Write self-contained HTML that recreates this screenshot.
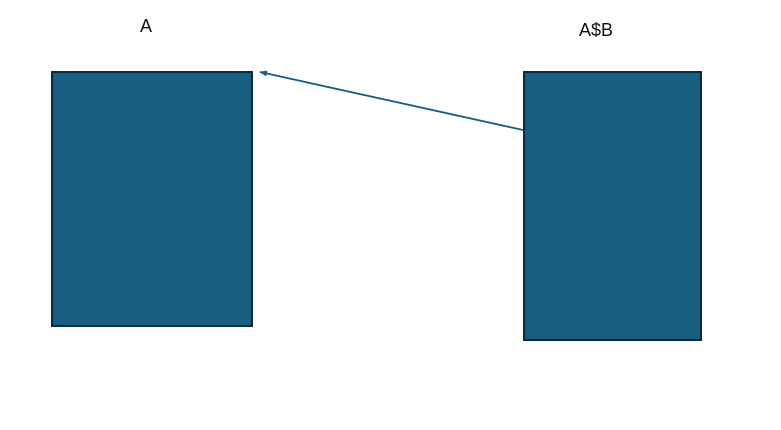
<!DOCTYPE html>
<html><head><meta charset="utf-8"><style>
html,body{margin:0;padding:0;background:#fff;}
svg{display:block;}
text{font-family:"Liberation Sans",sans-serif;font-size:18px;fill:#111;}
</style></head><body>
<svg width="781" height="430" viewBox="0 0 781 430">
<defs><marker id="ah" markerUnits="userSpaceOnUse" markerWidth="8" markerHeight="6" refX="7" refY="3" orient="auto"><path d="M0,0 L8,3 L0,6 z" fill="#175e80"/></marker></defs>
<text x="146" y="32" text-anchor="middle">A</text>
<text x="596" y="36" text-anchor="middle">A$B</text>
<rect x="52" y="72" width="200" height="254" fill="#175e80" stroke="#0c2a3a" stroke-width="2"/>
<rect x="524" y="72" width="177" height="268" fill="#175e80" stroke="#0c2a3a" stroke-width="2"/>
<line x1="523" y1="130" x2="260" y2="72" stroke="#175e80" stroke-width="1.8" marker-end="url(#ah)"/>
</svg>
</body></html>
